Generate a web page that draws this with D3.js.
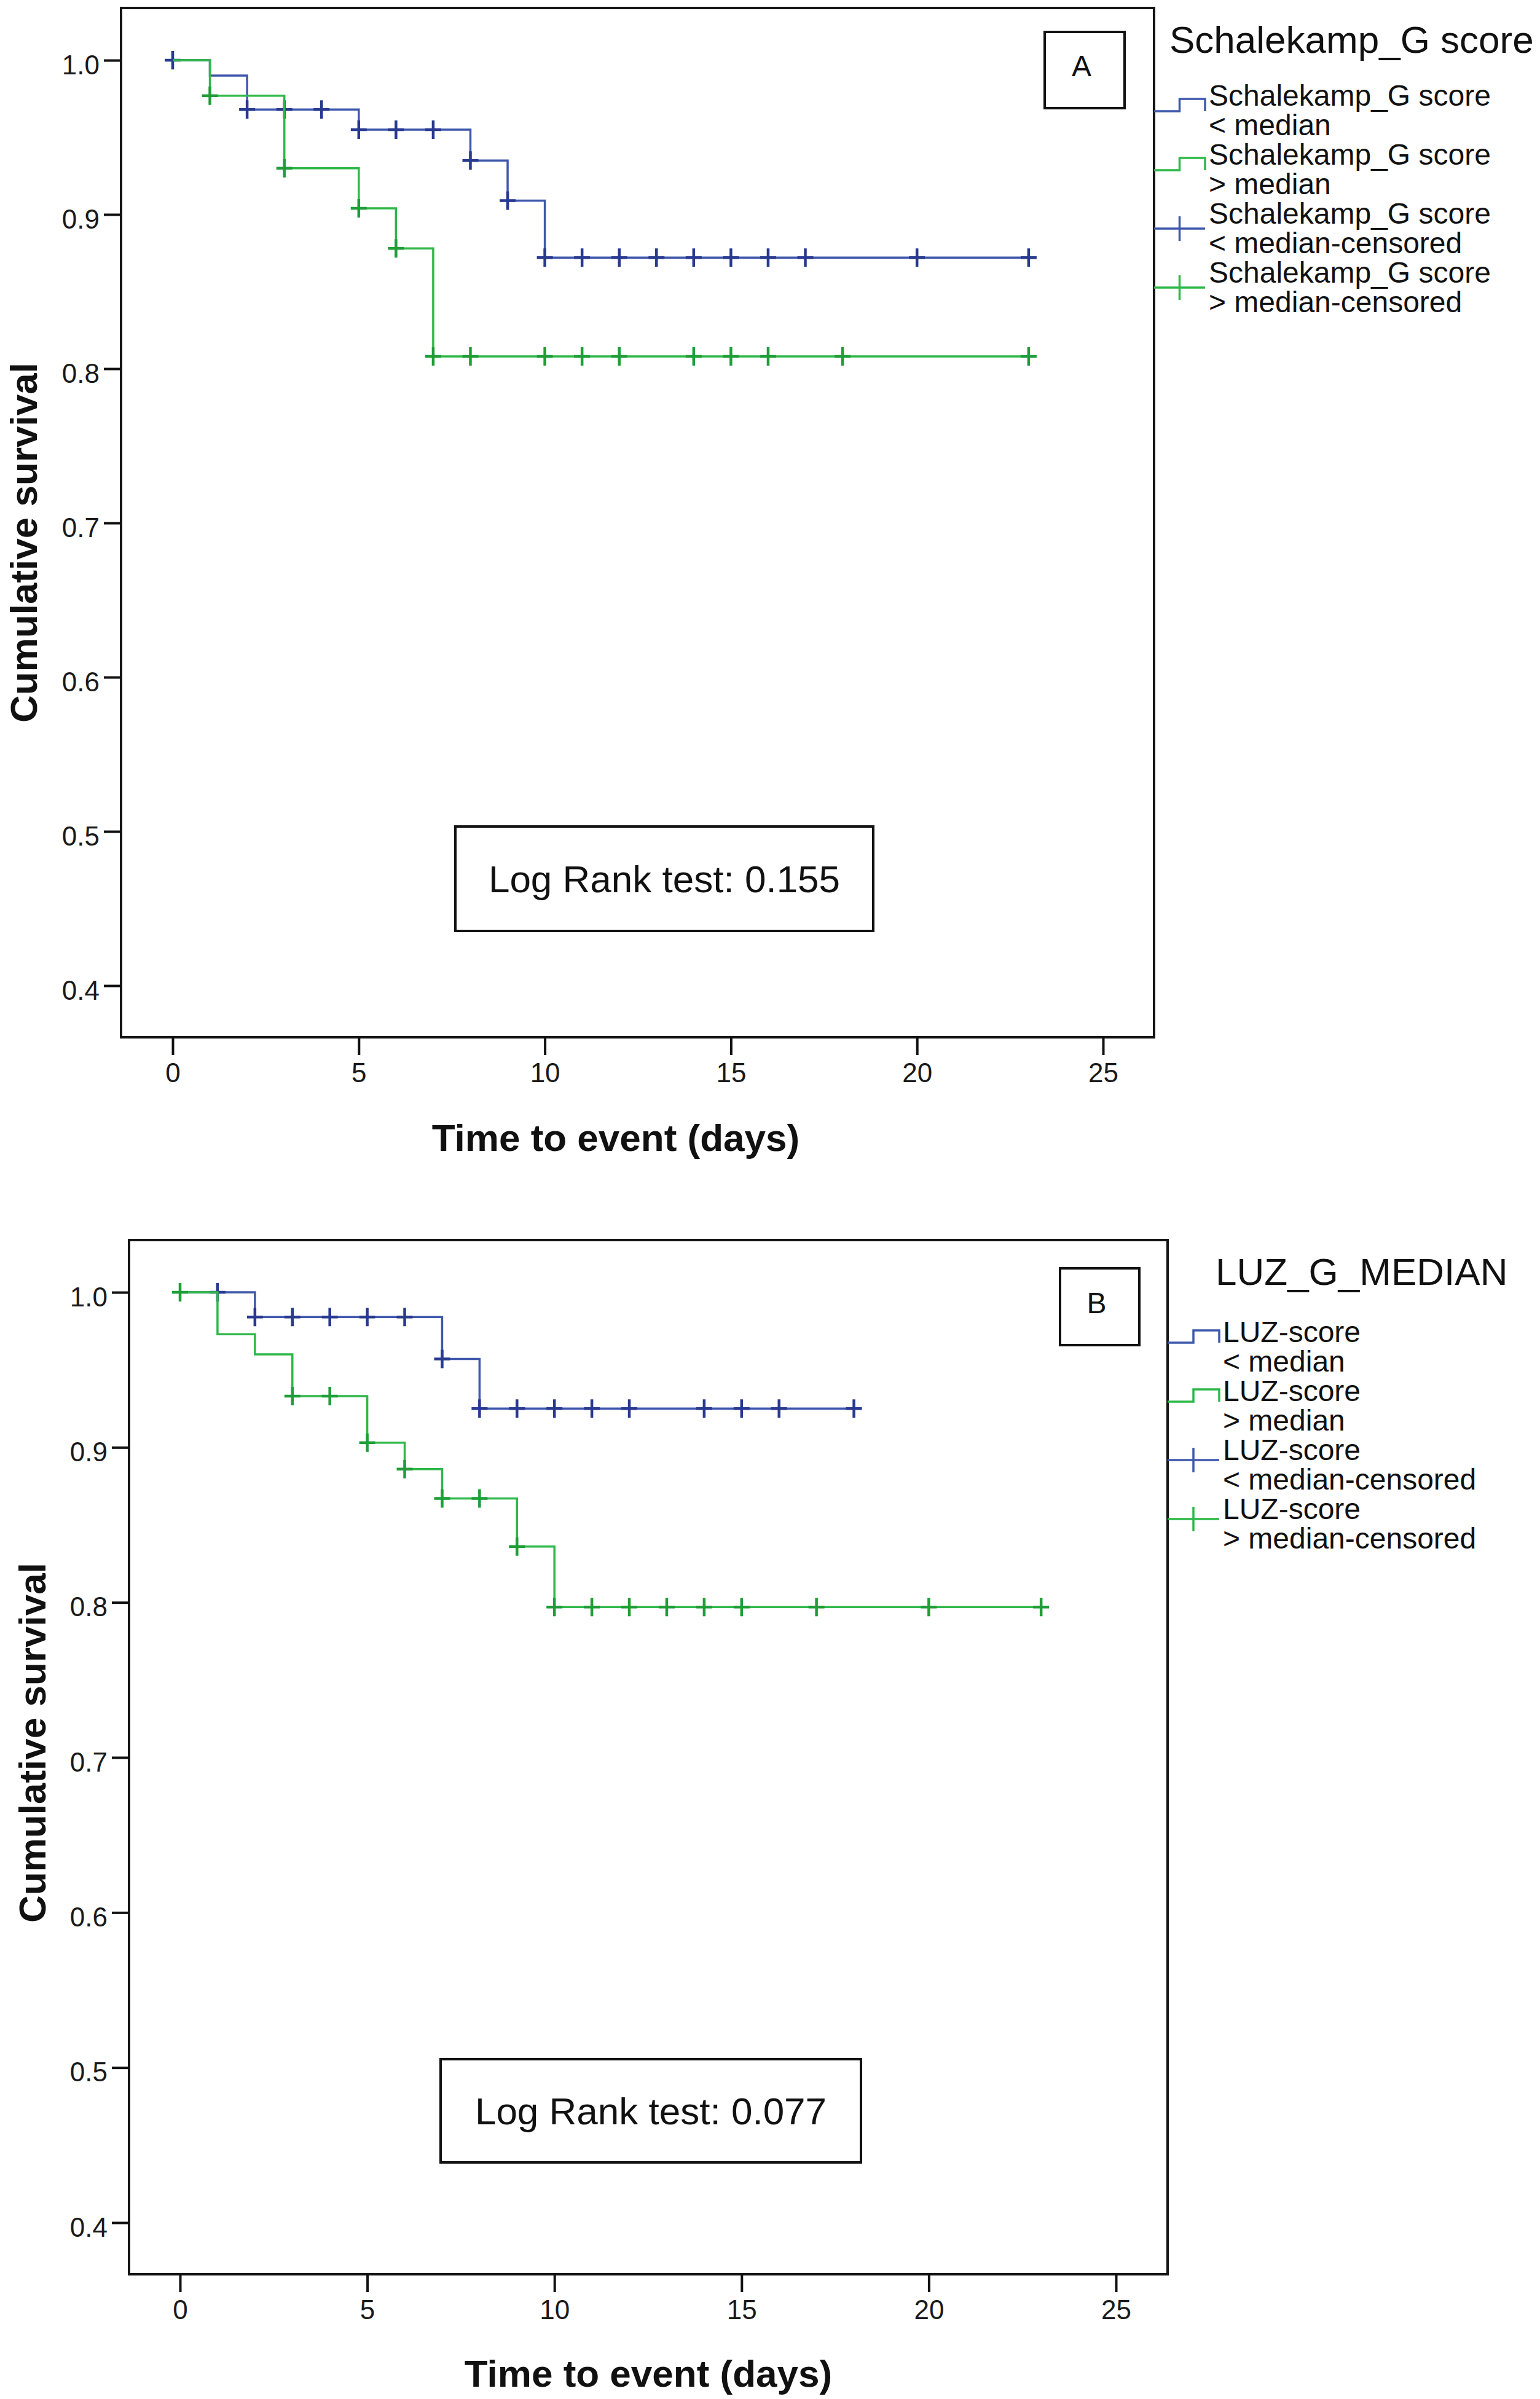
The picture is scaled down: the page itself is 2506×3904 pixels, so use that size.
<!DOCTYPE html>
<html>
<head>
<meta charset="utf-8">
<script src="https://cdn.jsdelivr.net/npm/d3@7"></script>
<style>
  body { margin: 0; background: #fff; }
</style>
</head>
<body>
<div id="viz"></div>
<script>
const width = 2506;
const height = 3904;
const font = "'Liberation Sans', Arial, sans-serif";
const blue = '#3e58ac';
const blueDark = '#28398f';
const green = '#2eb848';
const greenDark = '#1f9e38';

// Axis ticks (both panels)
const xTicks = [0, 5, 10, 15, 20, 25];
const yTicks = [0.4, 0.5, 0.6, 0.7, 0.8, 0.9, 1.0];

// Panel A - Schalekamp_G score, step times and survival after each step
const aLowTimes = [0, 1, 2, 5, 8, 9, 10];
const aLowSurv = [1.0, 0.990, 0.968, 0.955, 0.935, 0.909, 0.872];
const aLowEnd = 23;
const aLowCensored = [0, 2, 3, 4, 5, 6, 7, 8, 9, 10, 11, 12, 13, 14, 15, 16, 17, 20, 23];

const aHighTimes = [0, 1, 3, 5, 6, 7];
const aHighSurv = [1.0, 0.977, 0.930, 0.904, 0.878, 0.808];
const aHighEnd = 23;
const aHighCensored = [1, 3, 5, 6, 7, 8, 10, 11, 12, 14, 15, 16, 18, 23];

// Panel B - LUZ score
const bLowTimes = [0, 2, 7, 8];
const bLowSurv = [1.0, 0.984, 0.957, 0.925];
const bLowEnd = 18;
const bLowCensored = [1, 2, 3, 4, 5, 6, 7, 8, 9, 10, 11, 12, 14, 15, 16, 18];

const bHighTimes = [0, 1, 2, 3, 5, 6, 7, 9, 10];
const bHighSurv = [1.0, 0.973, 0.960, 0.933, 0.903, 0.886, 0.867, 0.836, 0.797];
const bHighEnd = 23;
const bHighCensored = [0, 3, 4, 5, 6, 7, 8, 9, 10, 11, 12, 13, 14, 15, 17, 20, 23];

// Texts
const yTitle = 'Cumulative survival';
const xTitle = 'Time to event (days)';
const legendTitleA = 'Schalekamp_G score';
const legendLinesA = [
  ['Schalekamp_G score', '< median'],
  ['Schalekamp_G score', '> median'],
  ['Schalekamp_G score', '< median-censored'],
  ['Schalekamp_G score', '> median-censored']
];
const legendTitleB = 'LUZ_G_MEDIAN';
const legendLinesB = [
  ['LUZ-score', '< median'],
  ['LUZ-score', '> median'],
  ['LUZ-score', '< median-censored'],
  ['LUZ-score', '> median-censored']
];
const logRankA = 'Log Rank test: 0.155';
const logRankB = 'Log Rank test: 0.077';

const svg = d3.select('#viz')
  .append('svg')
    .attr('width', width)
    .attr('height', height)
    .style('background', '#fff');

// survival level at time t (value of the step function)
const survAt = (times, surv, t) => {
  let s = surv[0];
  times.forEach((ti, i) => { if (ti <= t) s = surv[i]; });
  return s;
};

const drawPanel = (p) => {
  const g = svg.append('g');

  const x = d3.scaleLinear().domain([0, 25]).range([p.x0, p.x25]);
  const y = d3.scaleLinear().domain([0.4, 1.0]).range([p.y04, p.y10]);

  // plot frame
  g.append('rect')
    .attr('x', p.left)
    .attr('y', p.top)
    .attr('width', p.right - p.left)
    .attr('height', p.bottom - p.top)
    .attr('fill', 'none')
    .attr('stroke', '#151515')
    .attr('stroke-width', 4);

  // y axis
  const yAxis = g.append('g')
    .attr('transform', `translate(${p.left}, 0)`)
    .call(d3.axisLeft(y).tickValues(yTicks).tickFormat(d3.format('.1f')).tickSize(28).tickPadding(7))
    .attr('font-size', 44)
    .attr('font-family', font);
  yAxis.select('.domain').remove();
  yAxis.selectAll('.tick line').attr('stroke', '#111').attr('stroke-width', 4);
  yAxis.selectAll('.tick text').attr('fill', '#1a1a1a').attr('dy', '0.5em');

  // x axis
  const xAxis = g.append('g')
    .attr('transform', `translate(0, ${p.bottom})`)
    .call(d3.axisBottom(x).tickValues(xTicks).tickSize(29).tickPadding(13))
    .attr('font-size', 44)
    .attr('font-family', font);
  xAxis.select('.domain').remove();
  xAxis.selectAll('.tick line').attr('stroke', '#111').attr('stroke-width', 4);
  xAxis.selectAll('.tick text').attr('fill', '#1a1a1a');

  // axis titles
  g.append('text')
    .attr('transform', `translate(${p.yTitleX}, ${p.yTitleY}) rotate(-90)`)
    .attr('text-anchor', 'middle')
    .attr('font-family', font)
    .attr('font-weight', 'bold')
    .attr('font-size', 62)
    .attr('fill', '#111')
    .text(yTitle);

  g.append('text')
    .attr('x', p.xTitleX)
    .attr('y', p.xTitleY)
    .attr('text-anchor', 'middle')
    .attr('font-family', font)
    .attr('font-weight', 'bold')
    .attr('font-size', 62)
    .attr('fill', '#111')
    .text(xTitle);

  // survival curves
  const line = d3.line()
    .x(d => x(d[0]))
    .y(d => y(d[1]))
    .curve(d3.curveStepAfter);

  p.series.forEach(s => {
    const pts = s.times.map((t, i) => [t, s.surv[i]]);
    pts.push([s.end, s.surv[s.surv.length - 1]]);

    g.append('path')
      .attr('d', line(pts))
      .attr('fill', 'none')
      .attr('stroke', s.color)
      .attr('stroke-width', 3.5);

    // censored marks
    g.append('g')
      .selectAll('path')
      .data(s.censored)
      .join('path')
        .attr('d', t => {
          const cx = x(t), cy = y(survAt(s.times, s.surv, t));
          return `M${cx - 13},${cy}H${cx + 13}M${cx},${cy - 15}V${cy + 15}`;
        })
        .attr('stroke', s.markColor)
        .attr('stroke-width', 4.5)
        .attr('fill', 'none');
  });

  // panel letter box
  g.append('rect')
    .attr('x', p.letterBox[0])
    .attr('y', p.letterBox[1])
    .attr('width', p.letterBox[2])
    .attr('height', p.letterBox[3])
    .attr('fill', '#fff')
    .attr('stroke', '#111')
    .attr('stroke-width', 4);
  g.append('text')
    .attr('x', p.letterBox[0] + p.letterBox[2] / 2 - 5)
    .attr('y', p.letterBox[1] + p.letterBox[3] / 2 + 10)
    .attr('text-anchor', 'middle')
    .attr('font-family', font)
    .attr('font-size', 48)
    .attr('fill', '#111')
    .text(p.letter);

  // log rank box
  g.append('rect')
    .attr('x', p.logBox[0])
    .attr('y', p.logBox[1])
    .attr('width', p.logBox[2])
    .attr('height', p.logBox[3])
    .attr('fill', '#fff')
    .attr('stroke', '#111')
    .attr('stroke-width', 4);
  g.append('text')
    .attr('x', p.logBox[0] + p.logBox[2] / 2)
    .attr('y', p.logBox[1] + p.logBox[3] / 2 + 22)
    .attr('text-anchor', 'middle')
    .attr('font-family', font)
    .attr('font-size', 62)
    .attr('fill', '#111')
    .text(p.logText);

  // legend
  g.append('text')
    .attr('x', p.legTitleX)
    .attr('y', p.legTitleY)
    .attr('font-family', font)
    .attr('font-size', 62)
    .attr('fill', '#111')
    .text(p.legTitle);

  const legColors = [blue, green, blue, green];
  p.legLines.forEach((lines, i) => {
    const base = p.legY0 + i * 96;
    const x1 = p.right, x2 = p.legTextX - 6, xm = (x1 + x2) / 2;
    const off = p.legSymOff;
    if (i < 2) {
      g.append('path')
        .attr('d', `M${x1},${base + 1 + off}H${xm}V${base - 19 + off}H${x2}V${base + 1 + off}`)
        .attr('fill', 'none')
        .attr('stroke', legColors[i])
        .attr('stroke-width', 3.5);
    } else {
      g.append('path')
        .attr('d', `M${x1},${base + off}H${x2}M${xm},${base - 20 + off}V${base + 20 + off}`)
        .attr('fill', 'none')
        .attr('stroke', legColors[i])
        .attr('stroke-width', 3.5);
    }
    lines.forEach((txt, j) => {
      g.append('text')
        .attr('x', p.legTextX)
        .attr('y', base + j * 48)
        .attr('font-family', font)
        .attr('font-size', 48)
        .attr('fill', '#111')
        .text(txt);
    });
  });
};

// Panel A
drawPanel({
  left: 197, right: 1878, top: 13, bottom: 1688,
  x0: 281, x25: 1795, y04: 1604, y10: 98,
  yTitleX: 60, yTitleY: 883,
  xTitleX: 1002, xTitleY: 1873,
  series: [
    {times: aLowTimes, surv: aLowSurv, end: aLowEnd, censored: aLowCensored, color: blue, markColor: blueDark},
    {times: aHighTimes, surv: aHighSurv, end: aHighEnd, censored: aHighCensored, color: green, markColor: greenDark}
  ],
  letter: 'A', letterBox: [1700, 52, 130, 124],
  logText: logRankA, logBox: [741, 1345, 680, 170],
  legTitle: legendTitleA, legTitleX: 1903, legTitleY: 86,
  legLines: legendLinesA, legTextX: 1967, legY0: 172, legSymOff: 8
});

// Panel B
drawPanel({
  left: 210, right: 1900, top: 2018, bottom: 3701,
  x0: 293, x25: 1816, y04: 3617, y10: 2103,
  yTitleX: 74, yTitleY: 2836,
  xTitleX: 1055, xTitleY: 3884,
  series: [
    {times: bLowTimes, surv: bLowSurv, end: bLowEnd, censored: bLowCensored, color: blue, markColor: blueDark},
    {times: bHighTimes, surv: bHighSurv, end: bHighEnd, censored: bHighCensored, color: green, markColor: greenDark}
  ],
  letter: 'B', letterBox: [1725, 2064, 129, 125],
  logText: logRankB, logBox: [717, 3351, 684, 168],
  legTitle: legendTitleB, legTitleX: 1978, legTitleY: 2091,
  legLines: legendLinesB, legTextX: 1990, legY0: 2184, legSymOff: 0
});
</script>
</body>
</html>
